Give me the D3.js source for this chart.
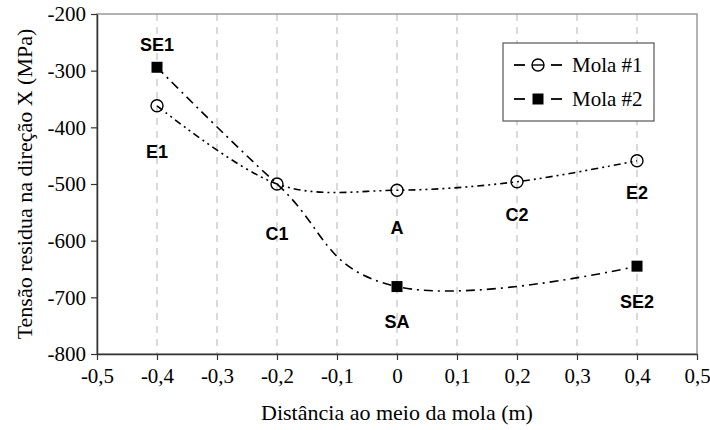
<!DOCTYPE html>
<html>
<head>
<meta charset="utf-8">
<script src="https://d3js.org/d3.v7.min.js"></script>
<style>
  body { margin: 0; background: #fff; }
  text { font-family: "Liberation Serif", "Times New Roman", serif; }
  .ponto { font-family: "Liberation Sans", Arial, sans-serif; font-weight: bold; font-size: 18px; }
</style>
</head>
<body>
<div class="canvas"></div>
<script>
// dados
const xTicks = [-0.5, -0.4, -0.3, -0.2, -0.1, 0, 0.1, 0.2, 0.3, 0.4, 0.5];
const yTicks = [-200, -300, -400, -500, -600, -700, -800];

const mola1X = [-0.4, -0.2, 0, 0.2, 0.4];
const mola1Y = [-362, -500, -511, -496, -459];
const mola1Nomes = ['E1', 'C1', 'A', 'C2', 'E2'];

const mola2X = [-0.4, -0.2, 0, 0.4];
const mola2Y = [-294, -500, -681, -645];
const mola2Marca = [true, false, true, true];
const mola2Nomes = ['SE1', '', 'SA', 'SE2'];

// dimensões
const dims = { width: 710, height: 430 };
const margin = { top: 14, right: 13, bottom: 76, left: 97 };
const w = dims.width - margin.left - margin.right;
const h = dims.height - margin.top - margin.bottom;

const svg = d3.select('.canvas')
    .append('svg')
    .attr('width', dims.width)
    .attr('height', dims.height);

const graph = svg.append('g')
    .attr('transform', `translate(${margin.left}, ${margin.top})`);

const x = d3.scaleLinear().domain([-0.5, 0.5]).range([0, w]);
const y = d3.scaleLinear().domain([-800, -200]).range([h, 0]);

const fmt = d => d === 0 ? '0' : d3.format('.1f')(d).replace('.', ',').replace('−', '-');

// linhas de grade verticais
graph.selectAll('line.grade')
    .data(xTicks.slice(1, -1))
    .enter().append('line')
    .attr('class', 'grade')
    .attr('x1', d => x(d)).attr('x2', d => x(d))
    .attr('y1', 0).attr('y2', h)
    .attr('stroke', '#b4b4b4')
    .attr('stroke-width', 1)
    .attr('stroke-dasharray', '7,6');

// moldura (topo e direita)
graph.append('rect')
    .attr('x', 0).attr('y', 0)
    .attr('width', w).attr('height', h)
    .attr('fill', 'none')
    .attr('stroke', '#999')
    .attr('stroke-width', 1.5);

// eixos
const xAxis = graph.append('g')
    .attr('transform', `translate(0, ${h})`)
    .call(d3.axisBottom(x).tickValues(xTicks).tickFormat(fmt).tickSize(6).tickSizeOuter(0));

const yAxis = graph.append('g')
    .call(d3.axisLeft(y).tickValues(yTicks).tickFormat(d => String(d)).tickSize(6).tickSizeOuter(0));

[xAxis, yAxis].forEach(ax => {
    ax.select('.domain').attr('stroke', '#333').attr('stroke-width', 1.5);
    ax.selectAll('.tick line').attr('stroke', '#333').attr('stroke-width', 1.2);
    ax.selectAll('.tick text')
        .attr('fill', '#000')
        .style('font-family', '"Liberation Serif", "Times New Roman", serif')
        .style('font-size', '21px');
});
xAxis.selectAll('.tick text').attr('y', 14).attr('dy', '0.71em');
yAxis.selectAll('.tick text').attr('x', -11);

// títulos dos eixos
svg.append('text')
    .attr('x', margin.left + w / 2)
    .attr('y', 420)
    .attr('text-anchor', 'middle')
    .style('font-size', '22px')
    .text('Distância ao meio da mola (m)');

svg.append('text')
    .attr('transform', `translate(32, ${margin.top + h / 2}) rotate(-90)`)
    .attr('text-anchor', 'middle')
    .style('font-size', '22px')
    .text('Tensão residua na direção X (MPa)');

// curvas suavizadas
const line1 = d3.line()
    .x(d => x(d[0]))
    .y(d => y(d[1]))
    .curve(d3.curveCardinal.tension(0));

const line2 = d3.line()
    .x(d => x(d[0]))
    .y(d => y(d[1]))
    .curve(d3.curveCardinal.tension(-0.25));

const dados1 = mola1X.map((v, i) => [v, mola1Y[i]]);
const dados2 = mola2X.map((v, i) => [v, mola2Y[i]]);

graph.append('path')
    .attr('d', line1(dados1))
    .attr('fill', 'none')
    .attr('stroke', '#000')
    .attr('stroke-width', 1.6)
    .attr('stroke-dasharray', '7,4,2,4,2,4');

graph.append('path')
    .attr('d', line2(dados2))
    .attr('fill', 'none')
    .attr('stroke', '#000')
    .attr('stroke-width', 1.6)
    .attr('stroke-dasharray', '9,5,2,5');

// marcadores
graph.selectAll('circle.m1')
    .data(dados1)
    .enter().append('circle')
    .attr('class', 'm1')
    .attr('cx', d => x(d[0]))
    .attr('cy', d => y(d[1]))
    .attr('r', 6)
    .attr('fill', 'none')
    .attr('stroke', '#000')
    .attr('stroke-width', 1.4);

graph.selectAll('rect.m2')
    .data(dados2.filter((d, i) => mola2Marca[i]))
    .enter().append('rect')
    .attr('class', 'm2')
    .attr('x', d => x(d[0]) - 5.5)
    .attr('y', d => y(d[1]) - 5.5)
    .attr('width', 11)
    .attr('height', 11)
    .attr('fill', '#000');

// rótulos dos pontos
const offs1 = { E1: 46, C1: 50, A: 37, C2: 33, E2: 32 };
const offs2 = { SE1: -23, SA: 35, SE2: 35 };

graph.selectAll('text.r1')
    .data(dados1)
    .enter().append('text')
    .attr('class', 'ponto')
    .attr('x', d => x(d[0]))
    .attr('y', (d, i) => y(d[1]) + offs1[mola1Nomes[i]])
    .attr('dy', '0.36em')
    .attr('text-anchor', 'middle')
    .text((d, i) => mola1Nomes[i]);

graph.selectAll('text.r2')
    .data(dados2.filter((d, i) => mola2Nomes[i]))
    .enter().append('text')
    .attr('class', 'ponto')
    .attr('x', d => x(d[0]))
    .attr('y', d => {
        const nome = mola2Nomes[mola2X.indexOf(d[0])];
        return y(d[1]) + offs2[nome];
    })
    .attr('dy', '0.36em')
    .attr('text-anchor', 'middle')
    .text(d => mola2Nomes[mola2X.indexOf(d[0])]);

// legenda
const legend = svg.append('g')
    .attr('transform', 'translate(503, 43)');

legend.append('rect')
    .attr('width', 151).attr('height', 78)
    .attr('fill', '#fff')
    .attr('stroke', '#555')
    .attr('stroke-width', 1.2);

const itens = [
    { nome: 'Mola #1', tipo: 'circulo' },
    { nome: 'Mola #2', tipo: 'quadrado' }
];

itens.forEach((item, i) => {
    const g = legend.append('g').attr('transform', `translate(0, ${22 + i * 34})`);
    g.append('line')
        .attr('x1', 11).attr('x2', 22).attr('stroke', '#000').attr('stroke-width', 1.8);
    g.append('line')
        .attr('x1', 48).attr('x2', 59).attr('stroke', '#000').attr('stroke-width', 1.8);
    if (item.tipo === 'circulo') {
        g.append('line')
            .attr('x1', 29).attr('x2', 41).attr('stroke', '#000').attr('stroke-width', 1.4);
        g.append('circle')
            .attr('cx', 35).attr('r', 6)
            .attr('fill', 'none').attr('stroke', '#000').attr('stroke-width', 1.4);
    } else {
        g.append('rect')
            .attr('x', 29.5).attr('y', -5.5).attr('width', 11).attr('height', 11)
            .attr('fill', '#000');
    }
    g.append('text')
        .attr('x', 69).attr('y', 7)
        .style('font-size', '21px')
        .text(item.nome);
});
</script>
</body>
</html>
